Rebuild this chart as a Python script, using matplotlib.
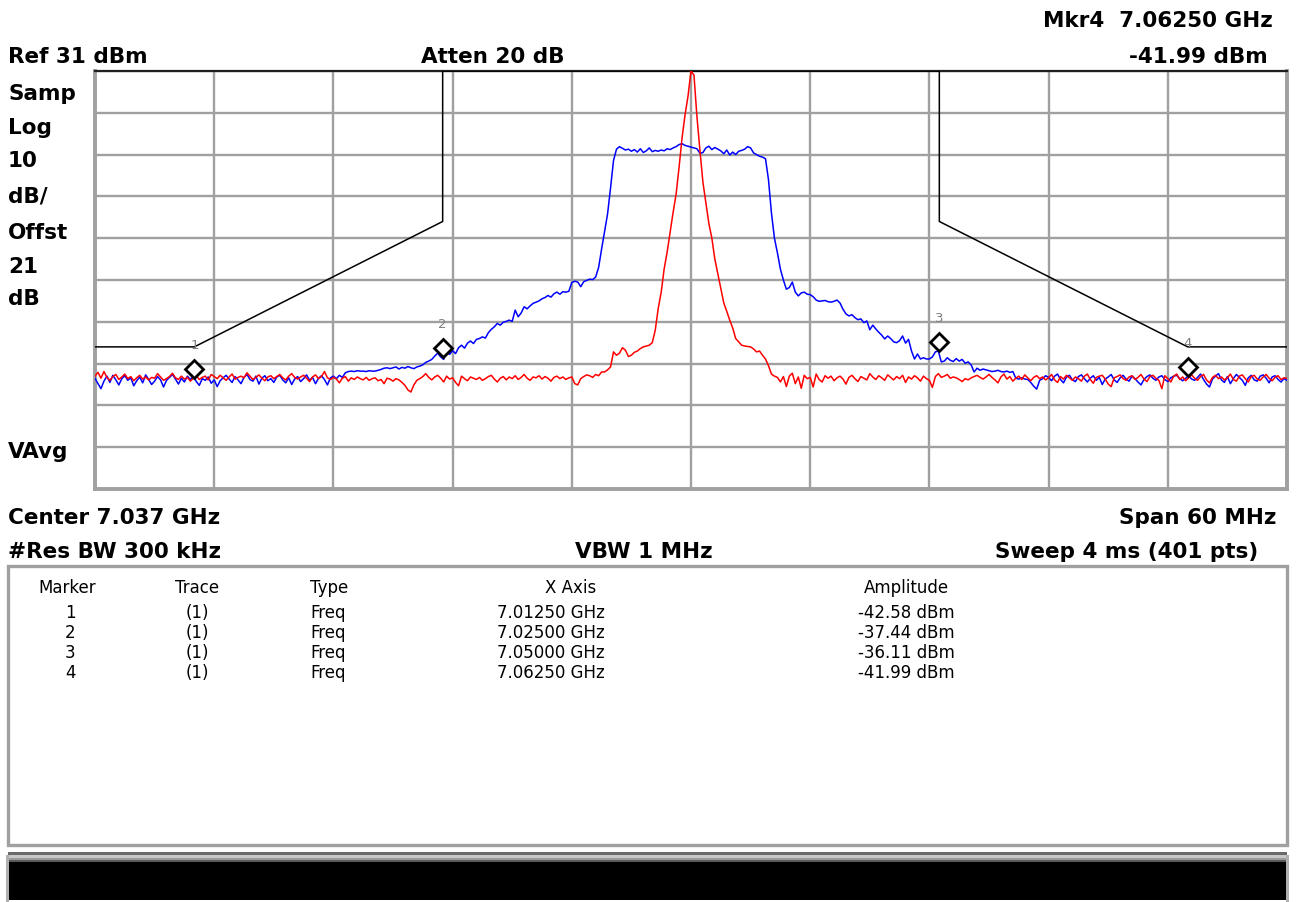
"""Spectrum analyzer screen: blue/red traces, limit mask and marker table."""

import matplotlib
matplotlib.use('Agg')
import matplotlib.pyplot as plt
import numpy as np
from matplotlib.patches import Rectangle
from matplotlib.transforms import ScaledTranslation

# sweep settings (GHz / dBm)
F_START = 7.0075
F_STOP = 7.0675
N_PTS = 401
REF_LEVEL = 31
BOTTOM_LEVEL = -69

# trace 1 (blue), 401 points
trace_blue = [
    -42.5, -43.8, -45.0, -43.2, -42.0, -43.5, -41.8, -42.9, -44.1, -42.6,
    -41.9, -43.0, -42.4, -44.3, -43.1, -42.2, -43.6, -41.7, -42.8, -44.0,
    -43.2, -42.1, -42.9, -44.6, -43.0, -42.3, -41.6, -42.7, -43.9, -42.5,
    -43.4, -42.0, -42.8, -41.9, -43.3, -44.2, -42.6, -43.0, -42.2, -43.7,
    -42.9, -44.5, -43.1, -42.4, -41.8, -42.7, -43.5, -42.1, -42.9, -43.8,
    -42.3, -41.6, -42.8, -43.2, -42.0, -43.9, -42.5, -41.9, -43.1, -42.6,
    -43.5, -42.2, -41.8, -42.9, -43.6, -42.4, -44.0, -42.7, -42.1, -43.3,
    -42.6, -41.7, -43.0, -42.3, -43.8, -42.5, -41.9, -42.8, -44.1, -42.4,
    -42.0, -42.6, -41.8, -42.3, -41.2, -40.9, -40.8, -40.9, -40.7, -40.8,
    -40.8, -40.9, -40.7, -40.8, -40.8, -40.6, -40.4, -40.1, -40.0, -40.2,
    -40.0, -39.8, -40.3, -39.9, -40.1, -39.7, -40.0, -40.2, -39.8, -39.6,
    -39.3, -38.7, -38.4, -38.0, -37.2, -36.5, -37.4, -38.0, -36.2, -36.8,
    -35.9, -36.6, -35.2, -34.6, -35.3, -34.1, -33.6, -34.2, -33.2, -33.0,
    -32.6, -32.9, -31.6, -30.8, -30.2, -29.4, -29.8, -29.1, -28.9, -28.6,
    -28.9, -26.2, -27.8, -26.9, -25.4, -25.9, -25.2, -24.6, -24.3, -24.0,
    -23.5, -23.2, -22.7, -23.1, -22.3, -21.9, -22.4, -21.8, -21.9, -21.7,
    -19.6, -19.3, -19.5, -20.6, -19.4, -19.1, -18.8, -18.9, -18.3, -16.0,
    -11.6, -7.4, -3.2, 3.0, 9.6, 12.3, 12.9, 12.5, 12.1, 12.3,
    11.8, 12.2, 11.6, 12.4, 11.5, 11.9, 12.6, 11.7, 12.0, 11.8,
    12.1, 11.9, 12.4, 12.2, 12.6, 12.9, 13.4, 13.6, 13.2, 13.0,
    12.8, 12.6, 12.4, 11.3, 11.5, 12.6, 13.0, 12.2, 12.7, 12.3,
    11.9, 11.2, 12.1, 10.9, 11.6, 11.0, 11.8, 12.0, 12.3, 12.9,
    12.6, 11.4, 11.0, 10.6, 10.4, 10.0, 5.0, -3.0, -9.0, -12.5,
    -16.4, -19.0, -21.2, -20.8, -19.5, -21.9, -22.8, -22.1, -21.9, -22.4,
    -22.5, -23.0, -23.8, -24.1, -24.0, -23.9, -24.2, -24.3, -24.1, -23.8,
    -24.5, -26.0, -27.1, -27.6, -27.3, -28.0, -28.5, -28.3, -29.2, -28.8,
    -30.9, -29.8, -30.7, -31.5, -32.2, -33.1, -32.4, -33.0, -33.8, -34.0,
    -33.5, -32.4, -34.1, -33.2, -36.0, -37.9, -36.7, -37.9, -37.6, -37.9,
    -37.9, -37.4, -36.2, -36.0, -38.6, -38.4, -37.6, -38.2, -38.5, -37.8,
    -38.4, -38.0, -38.9, -38.6, -39.3, -41.0, -40.1, -40.6, -40.3, -40.5,
    -40.7, -40.9, -40.8, -40.6, -40.9, -41.0, -40.8, -41.1, -40.9, -42.5,
    -42.7, -42.4, -42.7, -42.8, -43.5, -44.4, -45.1, -43.0, -42.6, -41.9,
    -42.3, -43.1, -42.0, -41.5, -42.8, -43.6, -42.2, -41.8, -42.9, -43.3,
    -42.1, -41.7, -42.6, -43.4, -42.5, -41.9, -43.0, -42.3, -44.0, -42.7,
    -42.2, -41.6, -42.9, -43.5, -42.4, -41.8, -42.7, -43.2, -42.0, -42.6,
    -43.4, -44.1, -42.8, -42.1, -41.7, -42.5, -43.0, -42.2, -41.9, -42.8,
    -43.3, -42.4, -42.0, -41.8, -42.6, -43.1, -42.5, -41.9, -42.7, -43.0,
    -42.3, -41.5, -42.8, -43.9, -44.6, -42.7, -42.0, -41.4, -42.9, -43.5,
    -42.1, -43.8, -42.6, -41.6, -42.3, -43.0, -44.2, -42.4, -41.8, -42.9,
    -43.2, -42.0, -41.7, -42.5, -43.6, -42.2, -41.9, -42.8, -43.4, -42.6,
    -43.0,
]

# trace 2 (red), 401 points
trace_red = [
    -42.0, -41.1, -42.5, -40.9, -42.3, -43.0, -42.1, -41.6, -42.8, -42.2,
    -41.5, -42.6, -42.1, -43.1, -42.4, -41.8, -42.7, -42.2, -42.9, -42.3,
    -42.5, -41.4, -42.2, -43.0, -42.6, -42.1, -41.3, -42.4, -42.8, -42.0,
    -42.7, -42.3, -43.2, -42.5, -41.9, -42.8, -42.3, -42.0, -42.9, -41.6,
    -42.1, -42.6, -41.8, -42.4, -43.0, -42.2, -41.5, -42.7, -42.3, -42.0,
    -42.4, -41.2, -42.0, -42.8, -42.3, -41.7, -42.5, -43.1, -42.2, -41.9,
    -42.6, -42.1, -41.6, -42.4, -42.9, -42.0, -41.4, -42.3, -42.7, -42.2,
    -41.8, -42.5, -43.3, -42.2, -41.7, -42.6, -42.1, -40.9, -42.4, -42.8,
    -42.3, -42.7, -43.6, -42.5, -42.1, -43.2, -42.4, -42.8, -42.2, -42.6,
    -42.9, -42.3, -43.0, -42.6, -42.4, -43.1, -42.8, -43.8, -42.5, -42.7,
    -43.2, -42.6, -42.9, -43.5, -44.2, -45.3, -45.8, -44.1, -43.0, -42.6,
    -42.1, -41.4, -42.3, -42.9, -42.2, -41.8, -42.5, -43.4, -42.0, -42.7,
    -42.4, -43.5, -44.3, -42.0, -42.6, -43.1, -42.2, -42.5, -42.8, -42.3,
    -43.0, -42.6, -42.1, -41.8, -42.7, -43.4, -42.5, -42.1, -42.9, -42.2,
    -42.6, -41.9, -42.8, -42.3, -41.6, -42.5, -43.0, -42.2, -42.4, -41.9,
    -42.7, -42.1, -42.5, -43.2, -42.3, -42.0, -42.6, -42.2, -42.8, -42.4,
    -42.2, -43.8, -44.1, -42.6, -42.1, -41.7, -41.9, -42.3, -41.6, -41.9,
    -41.0, -41.0, -40.5, -39.8, -36.2, -37.0, -36.5, -35.2, -35.8, -37.3,
    -37.0, -36.3, -36.0, -35.4, -35.0, -34.8, -34.6, -34.0, -31.0, -25.8,
    -21.9, -16.3, -12.3, -7.6, -2.8, 1.5, 8.0, 15.0, 20.5, 25.0,
    31.0, 30.0, 20.0, 12.0, 4.4, -0.5, -5.5, -9.0, -14.0, -17.5,
    -21.0, -24.5, -26.5, -28.6, -30.5, -33.0, -33.8, -34.6, -34.8, -34.9,
    -35.0, -35.5, -36.2, -36.0, -37.0, -37.9, -39.5, -41.5, -42.0, -42.3,
    -43.4, -42.1, -44.5, -42.0, -41.3, -43.8, -42.2, -44.9, -41.8, -42.6,
    -42.3, -44.6, -41.5, -42.8, -43.4, -41.9, -42.5, -42.0, -43.1, -42.4,
    -42.0, -42.7, -43.9, -42.3, -41.8, -42.6, -43.3, -42.1, -42.5, -42.9,
    -41.4, -42.2, -42.8, -41.9, -42.4, -43.0, -41.7, -42.3, -42.9, -42.1,
    -42.6, -41.8, -43.5, -42.2, -42.7, -41.9, -42.4, -43.2, -42.0, -42.6,
    -43.0, -44.7, -42.1, -41.4, -42.3, -42.0, -41.6, -42.5, -42.2, -42.4,
    -42.8, -43.3, -42.6, -42.9, -42.4, -42.1, -41.8, -42.3, -42.7, -42.2,
    -41.6, -42.3, -42.9, -43.6, -42.2, -41.5, -42.7, -42.1, -43.2, -42.5,
    -42.0, -42.8, -41.7, -42.4, -43.1, -42.3, -41.9, -42.6, -42.2, -42.9,
    -42.4, -41.6, -42.9, -43.5, -42.1, -42.7, -41.8, -42.4, -43.0, -42.2,
    -42.6, -43.2, -42.0, -41.5, -42.8, -43.7, -42.3, -42.0, -41.8, -42.7,
    -43.9, -44.5, -42.4, -42.1, -41.7, -42.6, -43.0, -42.2, -41.9, -42.8,
    -42.3, -41.6, -42.7, -43.3, -42.1, -41.8, -42.5, -43.0, -45.0, -41.9,
    -42.6, -43.4, -42.0, -41.5, -42.8, -42.2, -43.1, -42.4, -41.7, -42.5,
    -43.0, -42.1, -41.6, -42.9, -43.6, -42.3, -41.8, -42.6, -42.2, -42.9,
    -42.4, -41.5, -42.8, -43.2, -42.0, -41.7, -42.6, -43.4, -42.1, -41.8,
    -42.7, -43.0, -42.2, -41.6, -42.5, -43.1, -42.3, -41.9, -42.8, -42.4,
    -42.5,
]

# limit mask
limit_freq = [7.0075, 7.0125, 7.025, 7.025, 7.050, 7.050, 7.0625, 7.0675]
limit_amp = [-35, -35, -5, 31, 31, -5, -35, -35]

# markers
marker_ids = [1, 2, 3, 4]
marker_freq = [7.0125, 7.025, 7.050, 7.0625]
marker_amp = [-42.58, -37.44, -36.11, -41.99]

left_labels = ['Samp', 'Log', '10', 'dB/', 'Offst', '21', 'dB']
table_header = ['Marker', 'Trace', 'Type', 'X Axis', 'Amplitude']

W, H = 1296, 903
GRID = '#a0a0a0'


def fx(px):
    return px / W


def fy(py):
    return 1 - py / H


def main():
    fig = plt.figure(figsize=(W / 100, H / 100), dpi=100)
    fig.patch.set_facecolor('white')

    # ---- trace window
    ax = fig.add_axes([fx(95), fy(490), fx(1287) - fx(95), fy(72) - fy(490)])
    freq = np.linspace(F_START, F_STOP, N_PTS)
    ax.set_xlim(F_START, F_STOP)
    ax.set_ylim(BOTTOM_LEVEL, REF_LEVEL)
    ax.set_xticks(np.linspace(F_START, F_STOP, 11))
    ax.set_yticks(np.linspace(BOTTOM_LEVEL, REF_LEVEL, 11))
    ax.tick_params(length=0, labelbottom=False, labelleft=False)
    ax.grid(True, color=GRID, lw=1.7)
    for side in ['left', 'right', 'bottom']:
        ax.spines[side].set_color(GRID)
        ax.spines[side].set_linewidth(2.8)
    ax.spines['top'].set_color('#202020')
    ax.spines['top'].set_linewidth(1.6)

    ax.plot(limit_freq, limit_amp, color='black', lw=1.1, zorder=3)
    ax.plot(freq, trace_blue, color='#0000ff', lw=1.1, zorder=4)
    ax.plot(freq, trace_red, color='#ff0000', lw=1.1, zorder=5)

    # marker diamonds sit just above the trace point
    lift = ax.transData + ScaledTranslation(0, 6.8 / 72, fig.dpi_scale_trans)
    ax.plot(marker_freq, marker_amp, 'D', ms=9.5, mfc='white', mec='black',
            mew=2.0, transform=lift, zorder=6, clip_on=False)
    for mid, f, a in zip(marker_ids, marker_freq, marker_amp):
        ax.annotate(str(mid), (f, a), xytext=(0, 24.5),
                    textcoords='offset points', ha='center', va='center',
                    color='#808080', fontsize=9.5, zorder=6)

    # ---- screen annotations
    bold = dict(fontsize=15.5, fontweight='bold', va='baseline')
    fig.text(fx(1273), fy(27), 'Mkr4  7.06250 GHz', ha='right', **bold)
    fig.text(fx(1268), fy(63), '-41.99 dBm', ha='right', **bold)
    fig.text(fx(8), fy(63), 'Ref 31 dBm', ha='left', **bold)
    fig.text(fx(421), fy(63), 'Atten 20 dB', ha='left', **bold)
    for lab, base in zip(left_labels, [100, 134, 167, 203, 239, 273, 305]):
        fig.text(fx(8), fy(base), lab, ha='left', **bold)
    fig.text(fx(8), fy(458), 'VAvg', ha='left', **bold)
    fig.text(fx(8), fy(524), 'Center 7.037 GHz', ha='left', **bold)
    fig.text(fx(1276), fy(524), 'Span 60 MHz', ha='right', **bold)
    fig.text(fx(8), fy(558), '#Res BW 300 kHz', ha='left', **bold)
    fig.text(fx(644), fy(558), 'VBW 1 MHz', ha='center', **bold)
    fig.text(fx(1258), fy(558), 'Sweep 4 ms (401 pts)', ha='right', **bold)

    # ---- marker table
    fig.patches.append(Rectangle((fx(8), fy(846)), fx(1287) - fx(8),
                                 fy(567) - fy(846), transform=fig.transFigure,
                                 fill=False, ec=GRID, lw=2.4))
    reg = dict(fontsize=12, va='baseline')
    fig.text(fx(67), fy(593), table_header[0], ha='center', **reg)
    fig.text(fx(197), fy(593), table_header[1], ha='center', **reg)
    fig.text(fx(310), fy(593), table_header[2], ha='left', **reg)
    fig.text(fx(571), fy(593), table_header[3], ha='center', **reg)
    fig.text(fx(906), fy(593), table_header[4], ha='center', **reg)
    for i, (mid, f, a) in enumerate(zip(marker_ids, marker_freq, marker_amp)):
        base = 618 + 20 * i
        fig.text(fx(70), fy(base), str(mid), ha='center', **reg)
        fig.text(fx(197), fy(base), '(1)', ha='center', **reg)
        fig.text(fx(310), fy(base), 'Freq', ha='left', **reg)
        fig.text(fx(497), fy(base), '{:.5f} GHz'.format(f), ha='left', **reg)
        fig.text(fx(858), fy(base), '{:.2f} dBm'.format(a), ha='left', **reg)

    # ---- black status bar
    bars = [(853, 856, '#6a6a6a'), (856, 859, '#c8c8c8'),
            (859, 861, '#9a9a9a'), (861, 863, '#5a5a5a'),
            (863, 901, '#000000')]
    for top, bot, col in bars:
        fig.patches.append(Rectangle((fx(8), fy(bot)), fx(1287) - fx(8),
                                     fy(top) - fy(bot),
                                     transform=fig.transFigure,
                                     fc=col, ec='none'))
    fig.patches.append(Rectangle((fx(6), fy(903)), fx(3), fy(856) - fy(903),
                                 transform=fig.transFigure, fc='#b0b0b0',
                                 ec='none'))
    fig.patches.append(Rectangle((fx(1286), fy(903)), fx(3),
                                 fy(856) - fy(903), transform=fig.transFigure,
                                 fc='#b0b0b0', ec='none'))

    fig.savefig('out.png', dpi=100)


if __name__ == '__main__':
    main()
